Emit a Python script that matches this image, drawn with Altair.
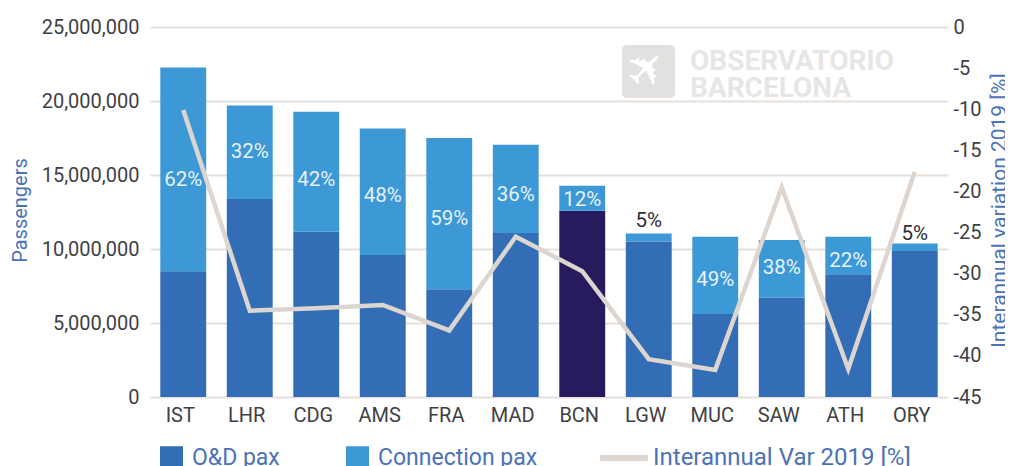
import altair as alt
import pandas as pd

airports = ["IST","LHR","CDG","AMS","FRA","MAD","BCN","LGW","MUC","SAW","ATH","ORY"]
od_pax = [8500000,13380000,11170000,9600000,7280000,11080000,12590000,10500000,5600000,6730000,8290000,9860000]
conn_pax = [13760000,6320000,8110000,8550000,10220000,5970000,1690000,550000,5230000,3870000,2540000,520000]
var_2019 = [-10.1,-34.5,-34.2,-33.8,-36.9,-25.5,-29.7,-40.4,-41.7,-19.5,-41.6,-17.6]
share_labels = ["62%","32%","42%","48%","59%","36%","12%","5%","49%","38%","22%","5%"]
label_pax = [14660000,16550000,14660000,13600000,12000000,13650000,13300000,11900000,7900000,8750000,9200000,11000000]
label_tone = ["in","in","in","in","in","in","in","out","in","in","in","out"]
y_ticks = [0,5000000,10000000,15000000,20000000,25000000]
var_ticks = [0,-5,-10,-15,-20,-25,-30,-35,-40,-45]

BLUE, LIGHT, NAVY = "#326db5", "#3d99d6", "#271a5d"
LINE, GRID, TXT, TITLE = "#ddd5cf", "#e7e0da", "#3f3f46", "#4c72b8"
FONT = "Roboto"

rows = []
for a, o, c in zip(airports, od_pax, conn_pax):
    rows.append(dict(a=a, s="BCN" if a == "BCN" else "O&D pax", v=o, k=0))
    rows.append(dict(a=a, s="Connection pax", v=c, k=1))
bars_df = pd.DataFrame(rows)
line_df = pd.DataFrame(dict(a=airports, v=var_2019, s="Interannual Var 2019 [%]"))
text_df = pd.DataFrame(dict(a=airports, v=label_pax, t=share_labels, tone=label_tone))

x = alt.X("a:N", sort=airports, title=None,
          scale=alt.Scale(paddingInner=0.31, paddingOuter=0.155),
          axis=alt.Axis(ticks=False, domain=False, labelAngle=0, labelFont=FONT, labelFontSize=20,
                        labelColor=TXT, labelPadding=8, labelOffset=-3, grid=False))
x_plain = alt.X("a:N", sort=airports, title=None)
yscale = alt.Scale(domain=[0, 25000000])

bars = alt.Chart(bars_df).mark_bar(strokeWidth=0).encode(
    x=x,
    y=alt.Y("v:Q", stack="zero", scale=yscale, title="Passengers",
            axis=alt.Axis(values=y_ticks, labelExpr="format(datum.value, ',d')", ticks=False, domain=False, grid=True,
                          gridColor=GRID, gridWidth=2, labelFont=FONT, labelFontSize=20,
                          labelColor=TXT, labelPadding=11, titleFont=FONT, titleFontSize=20,
                          titleFontWeight="normal", titleColor=TITLE, titleX=-120, titleY=183)),
    color=alt.Color("s:N", scale=alt.Scale(domain=["O&D pax","Connection pax","BCN"],
                                           range=[BLUE, LIGHT, NAVY]),
                    legend=alt.Legend(values=["O&D pax","Connection pax"], title=None, orient="none",
                                      legendX=10, legendY=419, direction="horizontal", columns=2,
                                      symbolType="square", symbolSize=529, symbolStrokeWidth=0,
                                      labelFont=FONT, labelFontSize=23, labelColor=TITLE,
                                      labelOffset=9, columnPadding=66, padding=0)),
    order=alt.Order("k:Q"),
)

labels = alt.Chart(text_df).mark_text(font=FONT, fontSize=20.5, baseline="middle").encode(
    x=x_plain,
    y=alt.Y("v:Q", scale=yscale, axis=None),
    text="t:N",
    color=alt.Color("tone:N", scale=alt.Scale(domain=["in","out"], range=["#e6f1f9", "#2f2f38"]), legend=None),
)

line = alt.Chart(line_df).mark_line(strokeWidth=4.5, strokeCap="butt", strokeJoin="miter").encode(
    x=x_plain,
    y=alt.Y("v:Q", scale=alt.Scale(domain=[-45, 0]), title="Interannual variation 2019 [%]",
            axis=alt.Axis(orient="right", values=var_ticks, labelExpr="'' + datum.value", ticks=False,
                          domain=False, grid=False, labelFont=FONT, labelFontSize=20, labelColor=TXT,
                          labelPadding=5, titleFont=FONT, titleFontSize=21, titleFontWeight="normal",
                          titleColor=TITLE, titleX=61, titleY=183, titleAngle=270)),
    stroke=alt.Stroke("s:N", scale=alt.Scale(range=[LINE]),
                      legend=alt.Legend(title=None, orient="none", legendX=447, legendY=404,
                                        symbolType="stroke", symbolSize=2300, symbolStrokeWidth=6,
                                        labelFont=FONT, labelFontSize=24, labelColor=TITLE,
                                        labelLimit=400, labelOffset=2, padding=0)),
)

base = alt.Chart(pd.DataFrame({"d": [0]}))
logo = base.mark_rect(color="#e2e1df", cornerRadius=5).encode(
    x=alt.value(472), x2=alt.value(525), y=alt.value(18), y2=alt.value(71))
plane = base.mark_text(font="DejaVu Sans", fontSize=48, angle=315, color="white", baseline="middle", align="center").encode(
    x=alt.value(498), y=alt.value(44), text=alt.value("\u2708"))
wm1 = base.mark_text(font=FONT, fontWeight="bold", fontSize=28, color="#e8e6e4", align="left", baseline="alphabetic").encode(
    x=alt.value(540), y=alt.value(43), text=alt.value("OBSERVATORIO"))
wm2 = base.mark_text(font=FONT, fontWeight="bold", fontSize=28, color="#e8e6e4", align="left", baseline="alphabetic").encode(
    x=alt.value(540), y=alt.value(70), text=alt.value("BARCELONA"))

chart = (
    alt.layer(bars, logo, plane, wm1, wm2, line, labels)
    .resolve_scale(y="independent", color="independent")
    .properties(width=798, height=370,
                autosize=alt.AutoSizeParams(type="none"),
                padding={"left": 142, "top": 19, "right": 57, "bottom": 80})
    .configure_view(stroke=None)
)
chart.save("out.html", embed_options={"renderer": "svg", "actions": False})
